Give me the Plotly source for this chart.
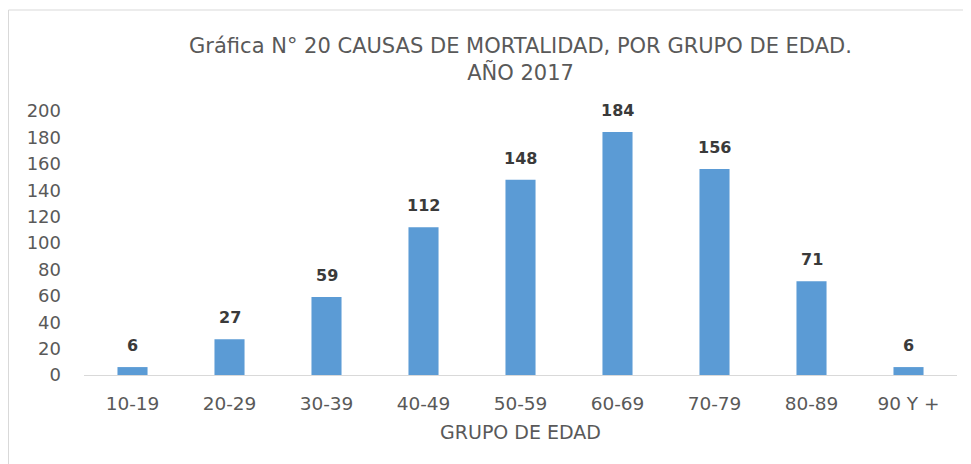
import plotly.graph_objects as go

categories = ["10-19", "20-29", "30-39", "40-49", "50-59", "60-69", "70-79", "80-89", "90 Y +"]
values = [6, 27, 59, 112, 148, 184, 156, 71, 6]
y_ticks = [0, 20, 40, 60, 80, 100, 120, 140, 160, 180, 200]

title_text = "Gráfica N° 20 CAUSAS DE MORTALIDAD, POR GRUPO DE EDAD.<br>AÑO 2017"
x_title = "GRUPO DE EDAD"

FONT = "DejaVu Sans, Verdana, sans-serif"
GRAY = "#595959"

# page body has an 8px margin; layout coordinates are shifted accordingly
L, R, T, B = 76, 22, 103, 97
PW = 971 - L - R
PH = 464 - T - B

fig = go.Figure(
    go.Bar(
        x=categories,
        y=values,
        marker=dict(color="#5b9bd5", line=dict(width=0)),
        width=0.31,
        hoverinfo="x+y",
    )
)

for c, v in zip(categories, values):
    fig.add_annotation(
        x=c,
        y=v,
        xref="x",
        yref="y",
        text=f"<b>{v}</b>",
        showarrow=False,
        yanchor="bottom",
        yshift=10,
        font=dict(family=FONT, size=16, color="#3a3a3a"),
    )

fig.update_layout(
    width=971,
    height=464,
    margin=dict(l=L, r=R, t=T, b=B),
    paper_bgcolor="white",
    plot_bgcolor="white",
    showlegend=False,
    font=dict(family=FONT, color=GRAY),
    title=dict(
        text=title_text,
        x=0.5,
        xref="paper",
        xanchor="center",
        y=1 - 45 / 464,
        yref="container",
        yanchor="middle",
        font=dict(family=FONT, size=21, color=GRAY),
    ),
    xaxis=dict(
        showline=True,
        linecolor="#d9d9d9",
        linewidth=1,
        showgrid=False,
        ticks="",
        tickfont=dict(size=18.5, color=GRAY),
        ticklabelstandoff=12,
        title=dict(text=x_title, font=dict(size=19, color=GRAY), standoff=12),
    ),
    yaxis=dict(
        range=[0, 200],
        tickvals=y_ticks,
        showgrid=False,
        showline=False,
        zeroline=False,
        ticks="",
        tickfont=dict(size=18, color=GRAY),
        ticklabelstandoff=22,
    ),
    shapes=[
        dict(
            type="rect",
            xref="paper",
            yref="paper",
            x0=(0.5 - L) / PW,
            x1=1.2,
            y0=-0.6,
            y1=(464 - B - 2) / PH,
            line=dict(color="#d9d9d9", width=1),
            fillcolor="rgba(0,0,0,0)",
            layer="below",
        )
    ],
)

fig.write_html("out.html")
